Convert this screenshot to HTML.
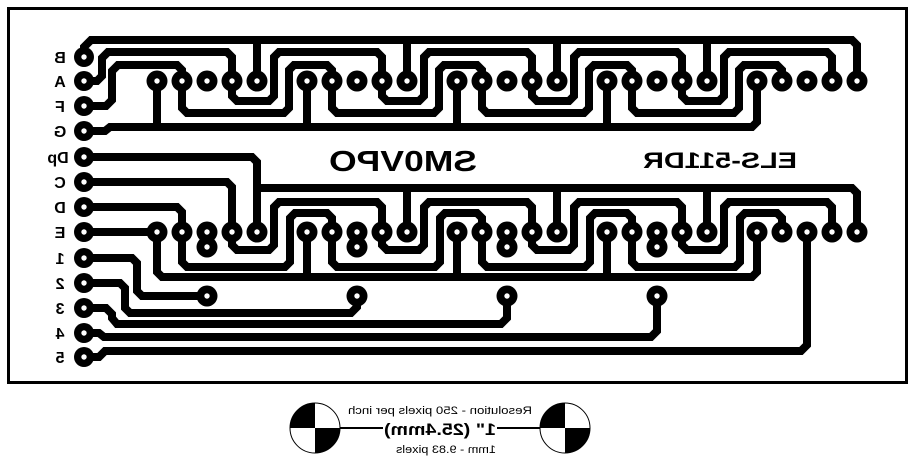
<!DOCTYPE html>
<html><head><meta charset="utf-8"><style>html,body{margin:0;padding:0;background:#fff}svg{display:block}</style></head>
<body>
<svg width="915" height="458" viewBox="0 0 915 458" xmlns="http://www.w3.org/2000/svg">
<rect x="0" y="0" width="915" height="458" fill="#fff"/>
<rect x="8.5" y="8.5" width="898" height="374" fill="none" stroke="#000" stroke-width="3"/>
<g fill="none" stroke="#000" stroke-width="8" stroke-linejoin="miter">
<path d="M84,57 L84,47 L91,40 L852,40 L857,45 L857,81"/>
<path d="M257,40V81M407,40V81M557,40V81M707,40V81"/>
<path d="M84,81 L97,81 L102,76 L102,58 L108,52 L227,52 L232,57 L232,96 L237,101 L269,101 L274,96 L274,57 L279,52 L377,52 L382,57 L382,96 L387,101 L419,101 L424,96 L424,57 L429,52 L527,52 L532,57 L532,96 L537,101 L569,101 L574,96 L574,57 L579,52 L677,52 L682,57 L682,96 L687,101 L719,101 L724,96 L724,57 L729,52 L827,52 L832,57 L832,81"/>
<path d="M84,106 L106,106 L112,100 L112,71 L118,65 L177,65 L182,70 L182,108 L187,113 L284,113 L289,108 L289,70 L294,65 L327,65 L332,70 L332,108 L337,113 L434,113 L439,108 L439,70 L444,65 L477,65 L482,70 L482,108 L487,113 L584,113 L589,108 L589,70 L594,65 L627,65 L632,70 L632,108 L637,113 L734,113 L739,108 L739,70 L744,65 L777,65 L782,70 L782,81"/>
<path d="M84,131 L105,131 L110,127 L752,127 L757,122 L757,81"/>
<path d="M157,127V81M307,127V81M457,127V81M607,127V81"/>
<path d="M84,157 L252,157 L257,162 L257,232"/>
<path d="M257,188 L852,188 L857,193 L857,232"/>
<path d="M407,188V232M557,188V232M707,188V232"/>
<path d="M84,182 L227,182 L232,187 L232,245 L237,250 L269,250 L274,245 L274,207 L279,202 L377,202 L382,207 L382,245 L387,250 L419,250 L424,245 L424,207 L429,202 L527,202 L532,207 L532,245 L537,250 L569,250 L574,245 L574,207 L579,202 L677,202 L682,207 L682,245 L687,250 L719,250 L724,245 L724,207 L729,202 L827,202 L832,207 L832,232"/>
<path d="M84,207 L177,207 L182,212 L182,262 L187,267 L285,267 L290,262 L290,218 L295,213 L327,213 L332,218 L332,262 L337,267 L435,267 L440,262 L440,218 L445,213 L477,213 L482,218 L482,262 L487,267 L585,267 L590,262 L590,218 L595,213 L627,213 L632,218 L632,262 L637,267 L735,267 L740,262 L740,218 L745,213 L777,213 L782,218 L782,232"/>
<path d="M84,232 L157,232 L157,272 L162,277 L752,277 L757,272 L757,232"/>
<path d="M307,277V232M457,277V232M607,277V232"/>
<path d="M207,232V247M357,232V247M507,232V247M657,232V247"/>
<path d="M84,258 L132,258 L137,263 L137,291 L142,296 L207,296"/>
<path d="M84,283 L120,283 L125,288 L125,308 L130,313 L351,313 L357,307 L357,296"/>
<path d="M84,308 L106,308 L112,314 L112,318 L117,324 L501,324 L507,318 L507,296"/>
<path d="M84,333 L99,333 L104,337 L651,337 L657,331 L657,296"/>
<path d="M84,357 L99,357 L105,351 L801,351 L807,345 L807,232"/>
</g>
<g fill="#000">
<g id="row">
<circle cx="157" cy="81" r="10.5"/><circle cx="182" cy="81" r="10.5"/><circle cx="207" cy="81" r="10.5"/><circle cx="232" cy="81" r="10.5"/><circle cx="257" cy="81" r="10.5"/>
<circle cx="307" cy="81" r="10.5"/><circle cx="332" cy="81" r="10.5"/><circle cx="357" cy="81" r="10.5"/><circle cx="382" cy="81" r="10.5"/><circle cx="407" cy="81" r="10.5"/>
<circle cx="457" cy="81" r="10.5"/><circle cx="482" cy="81" r="10.5"/><circle cx="507" cy="81" r="10.5"/><circle cx="532" cy="81" r="10.5"/><circle cx="557" cy="81" r="10.5"/>
<circle cx="607" cy="81" r="10.5"/><circle cx="632" cy="81" r="10.5"/><circle cx="657" cy="81" r="10.5"/><circle cx="682" cy="81" r="10.5"/><circle cx="707" cy="81" r="10.5"/>
<circle cx="757" cy="81" r="10.5"/><circle cx="782" cy="81" r="10.5"/><circle cx="807" cy="81" r="10.5"/><circle cx="832" cy="81" r="10.5"/><circle cx="857" cy="81" r="10.5"/>
</g>
<use href="#row" y="151"/>
<circle cx="207" cy="247" r="10.5"/><circle cx="357" cy="247" r="10.5"/><circle cx="507" cy="247" r="10.5"/><circle cx="657" cy="247" r="10.5"/>
<circle cx="207" cy="296" r="10.5"/><circle cx="357" cy="296" r="10.5"/><circle cx="507" cy="296" r="10.5"/><circle cx="657" cy="296" r="10.5"/>
<circle cx="84" cy="57" r="10"/><circle cx="84" cy="81" r="10"/><circle cx="84" cy="106" r="10"/><circle cx="84" cy="131" r="10"/><circle cx="84" cy="157" r="10"/><circle cx="84" cy="182" r="10"/><circle cx="84" cy="207" r="10"/><circle cx="84" cy="232" r="10"/><circle cx="84" cy="258" r="10"/><circle cx="84" cy="283" r="10"/><circle cx="84" cy="308" r="10"/><circle cx="84" cy="333" r="10"/><circle cx="84" cy="357" r="10"/>
</g>
<g fill="#fff">
<g id="hrow">
<circle cx="157" cy="81" r="2.7"/><circle cx="182" cy="81" r="2.7"/><circle cx="207" cy="81" r="2.7"/><circle cx="232" cy="81" r="2.7"/><circle cx="257" cy="81" r="2.7"/>
<circle cx="307" cy="81" r="2.7"/><circle cx="332" cy="81" r="2.7"/><circle cx="357" cy="81" r="2.7"/><circle cx="382" cy="81" r="2.7"/><circle cx="407" cy="81" r="2.7"/>
<circle cx="457" cy="81" r="2.7"/><circle cx="482" cy="81" r="2.7"/><circle cx="507" cy="81" r="2.7"/><circle cx="532" cy="81" r="2.7"/><circle cx="557" cy="81" r="2.7"/>
<circle cx="607" cy="81" r="2.7"/><circle cx="632" cy="81" r="2.7"/><circle cx="657" cy="81" r="2.7"/><circle cx="682" cy="81" r="2.7"/><circle cx="707" cy="81" r="2.7"/>
<circle cx="757" cy="81" r="2.7"/><circle cx="782" cy="81" r="2.7"/><circle cx="807" cy="81" r="2.7"/><circle cx="832" cy="81" r="2.7"/><circle cx="857" cy="81" r="2.7"/>
</g>
<use href="#hrow" y="151"/>
<circle cx="207" cy="247" r="2.7"/><circle cx="357" cy="247" r="2.7"/><circle cx="507" cy="247" r="2.7"/><circle cx="657" cy="247" r="2.7"/>
<circle cx="207" cy="296" r="2.7"/><circle cx="357" cy="296" r="2.7"/><circle cx="507" cy="296" r="2.7"/><circle cx="657" cy="296" r="2.7"/>
<circle cx="84" cy="57" r="2.7"/><circle cx="84" cy="81" r="2.7"/><circle cx="84" cy="106" r="2.7"/><circle cx="84" cy="131" r="2.7"/><circle cx="84" cy="157" r="2.7"/><circle cx="84" cy="182" r="2.7"/><circle cx="84" cy="207" r="2.7"/><circle cx="84" cy="232" r="2.7"/><circle cx="84" cy="258" r="2.7"/><circle cx="84" cy="283" r="2.7"/><circle cx="84" cy="308" r="2.7"/><circle cx="84" cy="333" r="2.7"/><circle cx="84" cy="357" r="2.7"/>
</g>
<g font-family="Liberation Sans, sans-serif" font-weight="bold" font-size="16" text-anchor="middle" fill="#000">
<text transform="translate(60,63) scale(-1,1)">B</text>
<text transform="translate(60,87) scale(-1,1)">A</text>
<text transform="translate(60,112) scale(-1,1)">F</text>
<text transform="translate(60,137) scale(-1,1)">G</text>
<text transform="translate(58,163) scale(-1,1)">Dp</text>
<text transform="translate(60,188) scale(-1,1)">C</text>
<text transform="translate(60,213) scale(-1,1)">D</text>
<text transform="translate(60,238) scale(-1,1)">E</text>
<text transform="translate(60,264) scale(-1,1)">1</text>
<text transform="translate(60,289) scale(-1,1)">2</text>
<text transform="translate(60,314) scale(-1,1)">3</text>
<text transform="translate(60,339) scale(-1,1)">4</text>
<text transform="translate(60,363) scale(-1,1)">5</text>
<text transform="translate(403,171) scale(-1,1)" font-size="29" textLength="148" lengthAdjust="spacingAndGlyphs">SM0VPO</text>
<text transform="translate(720,168) scale(-1,1)" font-size="22" textLength="154" lengthAdjust="spacingAndGlyphs">ELS-511DR</text>
</g>
<g stroke="#000">
<circle cx="315" cy="428" r="25" fill="#fff" stroke-width="1"/>
<path d="M315,428 L290,428 A25,25 0 0 1 315,403 Z" fill="#000" stroke="none"/>
<path d="M315,428 L340,428 A25,25 0 0 1 315,453 Z" fill="#000" stroke="none"/>
<circle cx="565" cy="428" r="25" fill="#fff" stroke-width="1"/>
<path d="M565,428 L540,428 A25,25 0 0 1 565,403 Z" fill="#000" stroke="none"/>
<path d="M565,428 L590,428 A25,25 0 0 1 565,453 Z" fill="#000" stroke="none"/>
<path d="M340,428H383M497,428H540" stroke-width="2"/>
</g>
<g font-family="Liberation Sans, sans-serif" text-anchor="middle" fill="#000">
<text transform="translate(440,414) scale(-1,1)" font-size="11" textLength="184" lengthAdjust="spacingAndGlyphs">Resolution - 250 pixels per inch</text>
<text transform="translate(440,435) scale(-1,1)" font-size="17" font-weight="bold" textLength="112" lengthAdjust="spacingAndGlyphs">1" (25.4mm)</text>
<text transform="translate(446,453) scale(-1,1)" font-size="11" textLength="100" lengthAdjust="spacingAndGlyphs">1mm - 9.83 pixels</text>
</g>
</svg>
</body></html>
